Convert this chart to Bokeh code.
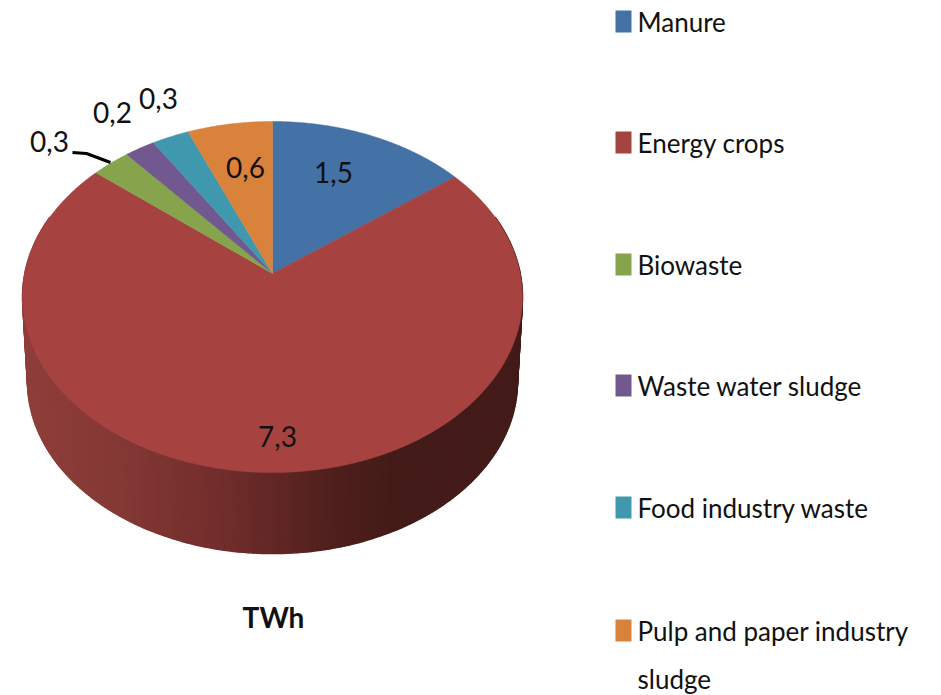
import numpy as np
from bokeh.plotting import figure
from bokeh.embed import file_html
from bokeh.resources import INLINE
from bokeh.core.properties import value
from bokeh.models import Range1d

categories = ["Manure", "Energy crops", "Biowaste", "Waste water sludge", "Food industry waste", "Pulp and  paper industry\nsludge"]
values = [1.5, 7.3, 0.29, 0.23, 0.28, 0.64]
value_labels = ["1,5", "7,3", "0,3", "0,2", "0,3", "0,6"]
colors = ["#4471A6", "#A64341", "#86A44B", "#71588F", "#4098AF", "#D9823C"]

FONT = "Lato"
W, H = 941, 695
p = figure(width=W, height=H, output_backend="svg", toolbar_location=None,
           x_range=Range1d(0, W), y_range=Range1d(H, 0),
           min_border=0, outline_line_color=None)
p.xaxis.visible = False
p.yaxis.visible = False
p.grid.visible = False
p.background_fill_color = "white"
p.border_fill_color = "white"

CX, CY, A, B, K = 272.0, 273.0, 247.7, 172.4, 0.134
SCALE, DROP = 0.98, 85.0


def project(theta, scale=1.0, drop=0.0):
    d = 1 + K * np.cos(theta)
    return CX + scale * A * np.sin(theta) / d, CY + drop - scale * B * np.cos(theta) / d


stops_x = [22, 120, 200, 272, 330, 400, 523]
stops_r = [0x90, 0x84, 0x76, 0x63, 0x50, 0x43, 0x43]
stops_g = [0x3F, 0x39, 0x30, 0x28, 0x20, 0x1B, 0x1B]
stops_b = [0x3B, 0x35, 0x2E, 0x26, 0x1D, 0x18, 0x18]

# side wall
ts = np.radians(np.arange(70.0, 291.0, 1.0))
xs, ys, cs = [], [], []
for a, b in zip(ts[:-1], ts[1:]):
    x0, y0 = project(a)
    x1, y1 = project(b)
    x2, y2 = project(b, SCALE, DROP)
    x3, y3 = project(a, SCALE, DROP)
    xs.append([x0, x1, x2, x3])
    ys.append([y0, y1, y2, y3])
    mx = (x0 + x1 + x2 + x3) / 4
    r = np.interp(mx, stops_x, stops_r)
    g = np.interp(mx, stops_x, stops_g)
    bb = np.interp(mx, stops_x, stops_b)
    cs.append("#%02x%02x%02x" % (int(r), int(g), int(bb)))
p.patches(xs, ys, fill_color=cs, line_color=cs, line_width=1.5)

# top slices
total = sum(values)
edges = np.cumsum([0] + values) / total * 2 * np.pi
for i, c in enumerate(colors):
    t = np.linspace(edges[i], edges[i + 1], max(4, int((edges[i + 1] - edges[i]) * 120)))
    x, y = project(t)
    p.patch(np.r_[CX, x], np.r_[CY, y], fill_color=c, line_color=c, line_width=0.5)

# leader line
p.line([72, 86, 110], [152, 153, 162], line_color="black", line_width=3)

# data labels
lx = [333, 277, 49, 112, 158, 245]
ly = [172, 436, 141, 112, 98, 167]
p.text(lx, ly, text=value_labels, text_font=value(FONT), text_font_size="28px",
       text_align="center", text_baseline="middle", text_color="#111111")

# title
p.text([273], [616], text=["TWh"], text_font=value(FONT), text_font_size="28px",
       text_font_style="bold", text_align="center", text_baseline="middle", text_color="#111111")

# legend
rows = [21, 142, 264, 385, 507, 630]
p.rect([623] * 6, rows, width=16, height=22, fill_color=colors, line_color=None)
for cat, y in zip(categories, rows):
    for j, part in enumerate(cat.split("\n")):
        p.text([637], [y + j * 48], text=[part], text_font=value(FONT), text_font_size="26px",
               text_align="left", text_baseline="middle", text_color="#111111")

open("out.html", "w").write(file_html(p, INLINE))
